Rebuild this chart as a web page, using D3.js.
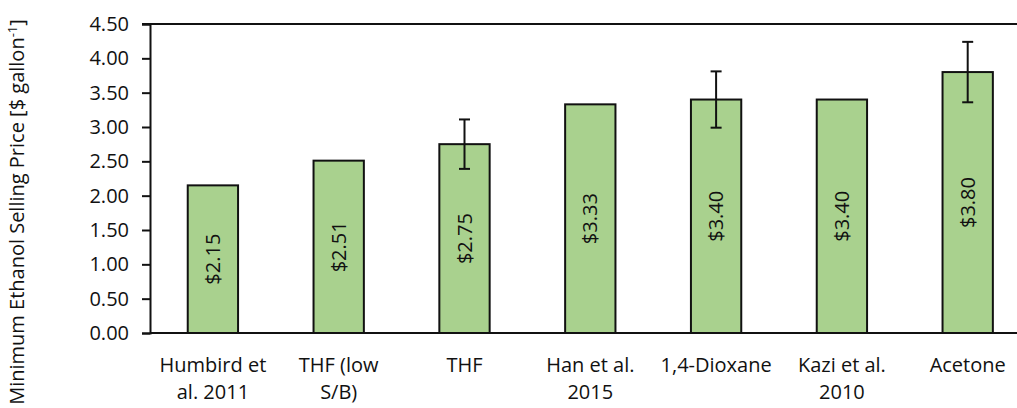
<!DOCTYPE html>
<html>
<head>
<meta charset="utf-8">
<script src="https://cdn.jsdelivr.net/npm/d3@7"></script>
<style>
  html, body { margin: 0; padding: 0; background: #fff; }
  svg { display: block; }
  text { font-family: "Open Sans", sans-serif; fill: #111; }
</style>
</head>
<body>
<svg id="chart" width="1017" height="408"></svg>
<script>
const categories = [
  ["Humbird et", "al. 2011"],
  ["THF (low", "S/B)"],
  ["THF"],
  ["Han et al.", "2015"],
  ["1,4-Dioxane"],
  ["Kazi et al.", "2010"],
  ["Acetone"]
];
const values = [2.15, 2.51, 2.75, 3.33, 3.40, 3.40, 3.80];
const errors = [null, null, 0.36, null, 0.41, null, 0.44];
const valueLabels = ["$2.15", "$2.51", "$2.75", "$3.33", "$3.40", "$3.40", "$3.80"];
const yTicks = [0, 0.5, 1, 1.5, 2, 2.5, 3, 3.5, 4, 4.5];
const yTitle = "Minimum Ethanol Selling Price [$ gallon";
const yTitleSup = "-1";

(function () {
const svg = d3.select("#chart");
const mLeft = 150, mRight = 1030.6, mTop = 24, mBottom = 333;
const fs = "20px";

const x = d3.scaleBand()
  .domain(d3.range(categories.length))
  .range([mLeft, mRight])
  .paddingInner(0.6)
  .paddingOuter(0.3);

const y = d3.scaleLinear().domain([0, 4.5]).range([mBottom, mTop]);

// top line
svg.append("line")
  .attr("x1", mLeft - 8).attr("x2", 1017)
  .attr("y1", y(4.5)).attr("y2", y(4.5))
  .attr("stroke", "#111").attr("stroke-width", 2);

// bars
svg.selectAll("rect.bar").data(values).enter().append("rect")
  .attr("class", "bar")
  .attr("x", (d, i) => x(i))
  .attr("width", x.bandwidth())
  .attr("y", d => y(d))
  .attr("height", d => y(0) - y(d))
  .attr("fill", "#A9D18E")
  .attr("stroke", "#111")
  .attr("stroke-width", 2);

// error bars
const eb = svg.append("g");
values.forEach((v, i) => {
  const e = errors[i];
  if (e == null) return;
  const cx = x(i) + x.bandwidth() / 2;
  eb.append("line").attr("x1", cx).attr("x2", cx)
    .attr("y1", y(v + e)).attr("y2", y(v - e))
    .attr("stroke", "#111").attr("stroke-width", 2);
  [v + e, v - e].forEach(t => {
    eb.append("line").attr("x1", cx - 5.5).attr("x2", cx + 5.5)
      .attr("y1", y(t)).attr("y2", y(t))
      .attr("stroke", "#111").attr("stroke-width", 2);
  });
});

// value labels
svg.selectAll("text.vl").data(values).enter().append("text")
  .attr("class", "vl")
  .attr("transform", (d, i) => {
    const cx = x(i) + x.bandwidth() / 2;
    const cy = (y(d) + y(0)) / 2;
    return `translate(${cx},${cy}) rotate(-90)`;
  })
  .attr("text-anchor", "middle")
  .attr("dy", "0.35em")
  .style("font-size", fs)
  .text((d, i) => valueLabels[i]);

// y axis
const yAxis = d3.axisLeft(y).tickValues(yTicks).tickFormat(d3.format(".2f"))
  .tickSize(8).tickPadding(13);
const gy = svg.append("g").attr("transform", `translate(${mLeft},0)`).call(yAxis);
gy.select(".domain").attr("stroke", "#111").attr("stroke-width", 2);
gy.selectAll(".tick line").attr("stroke", "#111").attr("stroke-width", 2);
gy.selectAll(".tick text").style("font-size", fs).style("font-family", "Open Sans").attr("fill", "#111");

// x axis line
svg.append("line")
  .attr("x1", mLeft).attr("x2", 1017)
  .attr("y1", mBottom).attr("y2", mBottom)
  .attr("stroke", "#111").attr("stroke-width", 2);

// x labels
const xl = svg.selectAll("text.xl").data(categories).enter().append("text")
  .attr("class", "xl")
  .attr("text-anchor", "middle")
  .attr("x", (d, i) => x(i) + x.bandwidth() / 2)
  .attr("y", 372)
  .style("font-size", fs);
xl.each(function(d) {
  const t = d3.select(this);
  d.forEach((line, j) => {
    t.append("tspan")
      .attr("x", t.attr("x"))
      .attr("dy", j === 0 ? 0 : 27)
      .text(line);
  });
});

// y title
const yt = svg.append("text")
  .attr("transform", `translate(24,212) rotate(-90)`)
  .attr("text-anchor", "middle")
  .style("font-size", fs);
yt.append("tspan").text(yTitle);
yt.append("tspan").attr("dy", -7).style("font-size", "13px").text(yTitleSup);
yt.append("tspan").attr("dy", 7).text("]");
})();
</script>
</body>
</html>
